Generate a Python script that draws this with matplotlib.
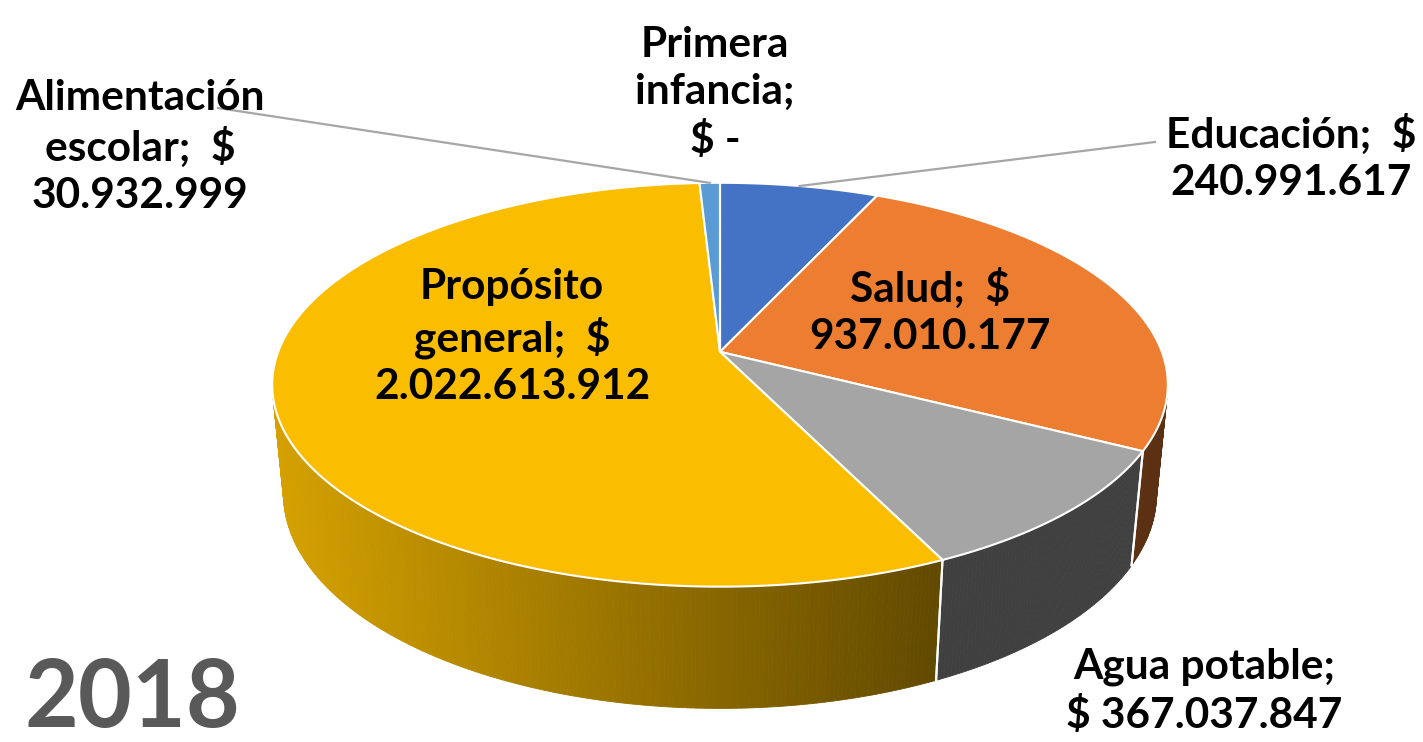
import numpy as np
import matplotlib.pyplot as plt
from matplotlib.patches import Polygon
from matplotlib.colors import to_rgb

# data
categories = ['Educación', 'Salud', 'Agua potable', 'Propósito general',
              'Alimentación escolar', 'Primera infancia']
values = [240991617, 937010177, 367037847, 2022613912, 30932999, 0]
colors = ['#4472C4', '#ED7D31', '#A5A5A5', '#FABD00', '#5B9BD5', '#70AD47']
label_fmt = ['Educación;  $\n{}', 'Salud;  $\n{}', 'Agua potable;\n$ {}',
             'Propósito\ngeneral;  $\n{}', 'Alimentación\nescolar;  $\n{}',
             'Primera\ninfancia;\n$ {}']
year = '2018'

# label placement (pixels), leader line starts
label_xy = [(1291, 158), (930, 312), (1204, 691), (512, 337), (140, 147), (715, 93)]
leader_from = {0: (1155, 142), 4: (218, 108)}

# fake 3d: perspective view of a disc
E = np.radians(29)
D = 5.5
S = 2370
H = 0.28
CX, CY = 720, 460


def proj(phi, z):
    x = np.cos(phi)
    y = np.sin(phi)
    depth = D + y * np.cos(E) - z * np.sin(E)
    u = CX + S * x / depth
    v = CY - S * (y * np.sin(E) + z * np.cos(E)) / depth
    return u, v


def fmt(v):
    return '-' if v == 0 else f'{v:,}'.replace(',', '.')


def shade(x):
    return float(np.clip(0.85 - 0.465 * (x - 275) / 670, 0.39, 0.85))


vals = np.array(values, dtype=float)
cum = np.concatenate([[0], np.cumsum(vals)]) / vals.sum()
phi0 = np.pi / 2 - 2 * np.pi * cum[:-1]
phi1 = np.pi / 2 - 2 * np.pi * cum[1:]
vis_lim = -1 / (D * np.cos(E))

fig = plt.figure(figsize=(14.23, 7.42), dpi=100)
ax = fig.add_axes([0, 0, 1, 1])
ax.set_xlim(0, 1423)
ax.set_ylim(742, 0)
ax.axis('off')

# side walls
for i in range(len(vals)):
    if vals[i] == 0:
        continue
    n = max(3, int(np.degrees(phi0[i] - phi1[i]) * 2))
    ph = np.linspace(phi0[i], phi1[i], n)
    base = np.array(to_rgb(colors[i]))
    for a, b in zip(ph[:-1], ph[1:]):
        if np.sin((a + b) / 2) >= vis_lim:
            continue
        ta, tb = proj(a, H), proj(b, H)
        ba, bb = proj(a, 0), proj(b, 0)
        c = base * shade((ta[0] + tb[0]) / 2)
        ax.add_patch(Polygon([ta, tb, bb, ba], closed=True, facecolor=c,
                             edgecolor=c, lw=0.6, zorder=1))
    # white seam where slices meet on the side
    for p in (phi0[i], phi1[i]):
        if np.sin(p) < vis_lim:
            t, bt = proj(p, H), proj(p, 0)
            ax.plot([t[0], bt[0]], [t[1], bt[1]], color='white', lw=1.5, zorder=2)

# top faces
vertex = (CX, proj(0.0, H)[1])
for i in range(len(vals)):
    n = max(3, int(np.degrees(phi0[i] - phi1[i]) * 2))
    ph = np.linspace(phi0[i], phi1[i], n)
    u, v = proj(ph, H)
    pts = [vertex] + list(zip(u, v))
    ax.add_patch(Polygon(pts, closed=True, facecolor=colors[i],
                         edgecolor='white', lw=1.5, zorder=3))

# leader lines to rim midpoints
for i, (lx, ly) in leader_from.items():
    mx, my = proj((phi0[i] + phi1[i]) / 2, H)
    ax.plot([lx, mx], [ly, my], color='#A6A6A6', lw=1.6, zorder=4)

# labels
for i in range(len(vals)):
    ax.text(label_xy[i][0], label_xy[i][1], label_fmt[i].format(fmt(values[i])),
            ha='center', va='center', fontsize=30.5, fontweight='bold',
            family='Lato', color='black', linespacing=1.3, zorder=5)

ax.text(25, 727, year, ha='left', va='baseline', fontsize=67, fontweight='bold',
        family='Lato', color='#595959', zorder=5)

fig.savefig('out.png', dpi=100)
